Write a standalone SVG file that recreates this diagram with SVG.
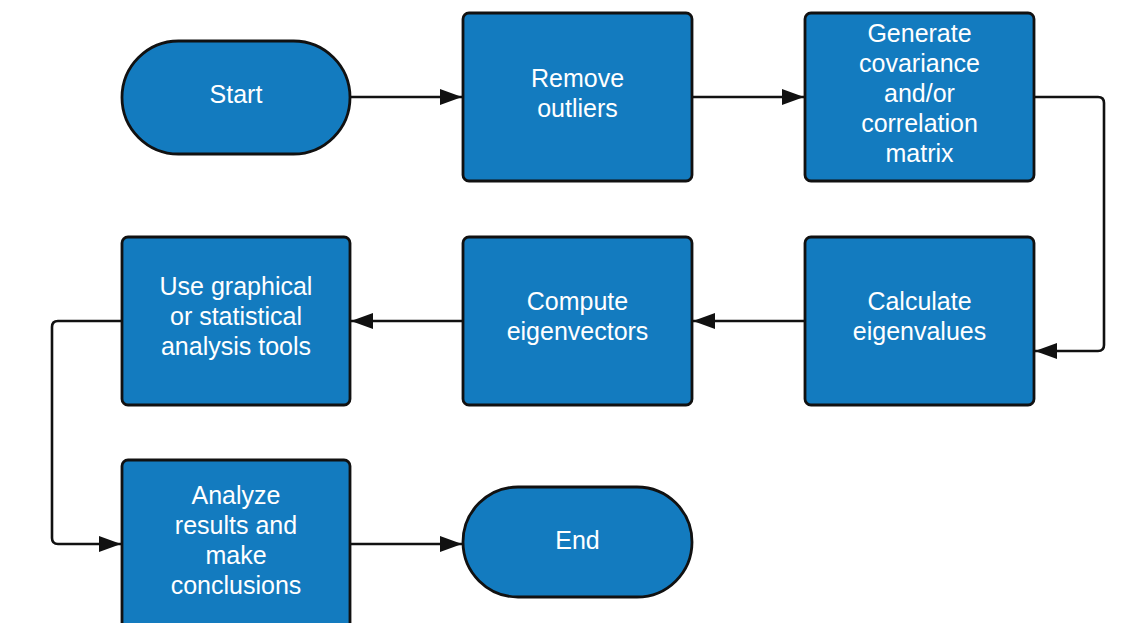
<svg xmlns="http://www.w3.org/2000/svg" width="1138" height="623" viewBox="0 0 1138 623">
<defs>
<style>
.box{fill:#137bbf;stroke:#111;stroke-width:2.8}
.lbl{fill:#fff;font-family:"Liberation Sans",Arial,sans-serif;font-size:25px;text-anchor:middle}
.edge{fill:none;stroke:#111;stroke-width:2.6}
</style>
<marker id="ah" viewBox="0 0 22 16" refX="22" refY="8" markerWidth="22" markerHeight="16" markerUnits="userSpaceOnUse" orient="auto">
<path d="M0,0 L22,8 L0,16 Z" fill="#111"/>
</marker>
</defs>
<rect width="1138" height="623" fill="#fff"/>
<g id="connectors">
<path class="edge" d="M350,97 H462" marker-end="url(#ah)"/>
<path class="edge" d="M692,97 H804" marker-end="url(#ah)"/>
<path class="edge" d="M1034,97 H1098 Q1104,97 1104,103 V345 Q1104,351 1098,351 H1035" marker-end="url(#ah)"/>
<path class="edge" d="M805,321 H693" marker-end="url(#ah)"/>
<path class="edge" d="M463,321 H351" marker-end="url(#ah)"/>
<path class="edge" d="M122,321 H58 Q52,321 52,327 V538 Q52,544 58,544 H121" marker-end="url(#ah)"/>
<path class="edge" d="M350,544 H462" marker-end="url(#ah)"/>
</g>
<g id="start">
<rect class="box" x="122" y="41" width="228" height="113" rx="56.5"/>
<text class="lbl" x="236" y="103">Start</text>
</g>
<g id="remove-outliers">
<rect class="box" x="463" y="13" width="229" height="168" rx="6"/>
<text class="lbl" x="577.5" y="87">Remove</text>
<text class="lbl" x="577.5" y="117">outliers</text>
</g>
<g id="generate-matrix">
<rect class="box" x="805" y="13" width="229" height="168" rx="6"/>
<text class="lbl" x="919.5" y="42">Generate</text>
<text class="lbl" x="919.5" y="72">covariance</text>
<text class="lbl" x="919.5" y="102">and/or</text>
<text class="lbl" x="919.5" y="132">correlation</text>
<text class="lbl" x="919.5" y="162">matrix</text>
</g>
<g id="calculate-eigenvalues">
<rect class="box" x="805" y="237" width="229" height="168" rx="6"/>
<text class="lbl" x="919.5" y="310">Calculate</text>
<text class="lbl" x="919.5" y="340">eigenvalues</text>
</g>
<g id="compute-eigenvectors">
<rect class="box" x="463" y="237" width="229" height="168" rx="6"/>
<text class="lbl" x="577.5" y="310">Compute</text>
<text class="lbl" x="577.5" y="340">eigenvectors</text>
</g>
<g id="use-tools">
<rect class="box" x="122" y="237" width="228" height="168" rx="6"/>
<text class="lbl" x="236" y="295">Use graphical</text>
<text class="lbl" x="236" y="325">or statistical</text>
<text class="lbl" x="236" y="355">analysis tools</text>
</g>
<g id="analyze-results">
<rect class="box" x="122" y="460" width="228" height="175" rx="6"/>
<text class="lbl" x="236" y="504">Analyze</text>
<text class="lbl" x="236" y="534">results and</text>
<text class="lbl" x="236" y="564">make</text>
<text class="lbl" x="236" y="594">conclusions</text>
</g>
<g id="end">
<rect class="box" x="463" y="487" width="229" height="110" rx="55"/>
<text class="lbl" x="577.5" y="549">End</text>
</g>
</svg>
